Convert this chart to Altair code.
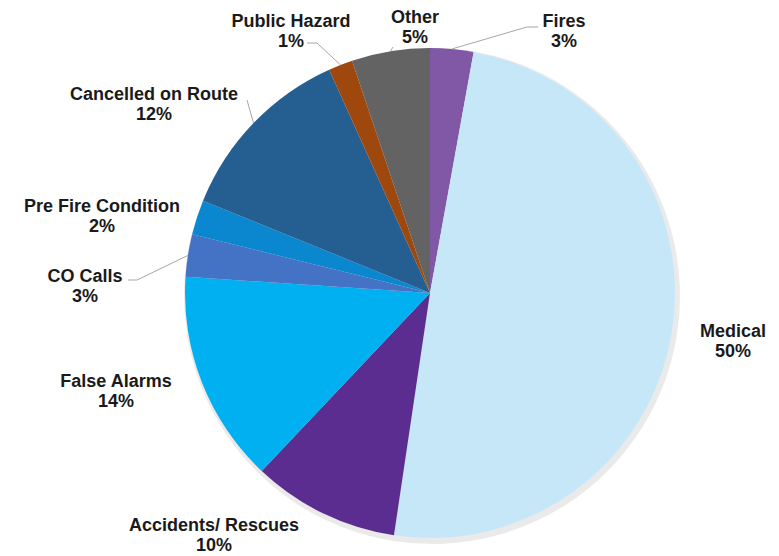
import math
import altair as alt
import pandas as pd

# ---- data (clockwise from 12 o'clock) ----
categories = ["Fires", "Medical", "Accidents/ Rescues", "False Alarms", "CO Calls",
              "Pre Fire Condition", "Cancelled on Route", "Public Hazard", "Other"]
values = [2.85, 49.5, 9.7, 14.0, 2.8, 2.3, 12.1, 1.6, 5.15]
pct_labels = ["3%", "50%", "10%", "14%", "3%", "2%", "12%", "1%", "5%"]
colors = ["#8058a5", "#c6e7f8", "#5c2d91", "#00b0f0", "#4472c4",
          "#0b87d0", "#255e91", "#9e480e", "#636363"]

# ---- layout (plot-area pixels) ----
W, H = 763, 548
CX, CY, R = 422, 285, 245
# label anchor: centre x, baseline of first line
label_pos = {
    "Fires": (556, 19), "Medical": (725, 329), "Accidents/ Rescues": (206, 523),
    "False Alarms": (108, 379), "CO Calls": (77, 274), "Pre Fire Condition": (94, 204),
    "Cancelled on Route": (146, 92), "Public Hazard": (283, 19), "Other": (407, 15),
}
# leader lines: start/elbow points, end on the slice edge
leaders = {
    "Fires": [(530, 19), (519, 19)],
    "Public Hazard": [(299, 35), (309, 35)],
    "Other": [(385, 39)],
    "Cancelled on Route": [(239, 92)],
    "CO Calls": [(120, 272), (129, 272)],
}

df = pd.DataFrame({"category": categories, "value": values, "order": list(range(len(categories)))})

total = sum(values)
cum = 0.0
mid_angle = {}
for c, v in zip(categories, values):
    mid_angle[c] = (cum + v / 2) / total * 2 * math.pi
    cum += v

lab_df = pd.DataFrame({
    "text": [f"{c}\n{p}" for c, p in zip(categories, pct_labels)],
    "lx": [label_pos[c][0] for c in categories],
    "ly": [label_pos[c][1] for c in categories],
})

rows = []
for c, pts in leaders.items():
    seq = 0
    for (px, py) in pts:
        rows.append({"cat": c, "seq": seq, "px": px, "py": py})
        seq += 1
    a = mid_angle[c]
    rows.append({"cat": c, "seq": seq, "px": CX + R * math.sin(a), "py": CY - R * math.cos(a)})
lead_df = pd.DataFrame(rows)

xs = alt.Scale(domain=[0, W], range=[0, W], nice=False, zero=False)
ys = alt.Scale(domain=[0, H], range=[0, H], nice=False, zero=False)

shadow = alt.Chart(df).mark_arc(outerRadius=R + 3, color="#dcdcdc", opacity=0.6).encode(
    theta=alt.Theta("value:Q", stack=True),
    order=alt.Order("order:Q"),
    x=alt.value(CX + 2), y=alt.value(CY + 3),
)

pie = alt.Chart(df).mark_arc(outerRadius=R).encode(
    theta=alt.Theta("value:Q", stack=True),
    color=alt.Color("category:N", scale=alt.Scale(domain=categories, range=colors), legend=None),
    order=alt.Order("order:Q"),
    x=alt.value(CX), y=alt.value(CY),
)

lines = alt.Chart(lead_df).mark_line(color="#a6a6a6", strokeWidth=1).encode(
    x=alt.X("px:Q", scale=xs, axis=None),
    y=alt.Y("py:Q", scale=ys, axis=None),
    detail="cat:N",
    order=alt.Order("seq:Q"),
)

labels = alt.Chart(lab_df).mark_text(
    font="Liberation Sans", fontWeight="bold", fontSize=18, color="#1a1a1a",
    align="center", baseline="alphabetic", lineBreak="\n", lineHeight=20,
).encode(
    x=alt.X("lx:Q", scale=xs, axis=None),
    y=alt.Y("ly:Q", scale=ys, axis=None),
    text="text:N",
)

chart = alt.layer(shadow, pie, lines, labels).properties(
    width=W, height=H, padding=0, autosize="none"
).configure_view(stroke=None)

chart.save("out.html", embed_options={"renderer": "svg", "actions": False})
